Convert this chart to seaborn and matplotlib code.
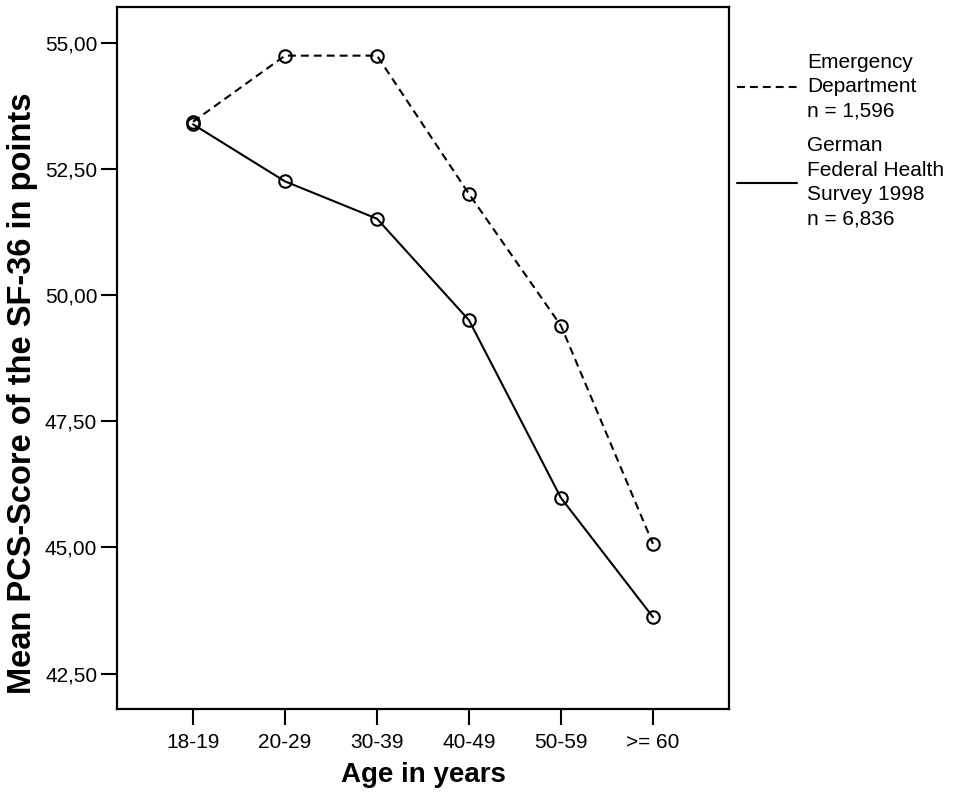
import numpy as np
import pandas as pd
import matplotlib
matplotlib.use("Agg")
import matplotlib.pyplot as plt
from matplotlib.lines import Line2D
import seaborn as sns

# Data
age_groups = ["18-19", "20-29", "30-39", "40-49", "50-59", ">= 60"]
emergency_dept = [53.43, 54.74, 54.74, 52.00, 49.39, 45.07]
federal_survey = [53.38, 52.25, 51.51, 49.50, 45.98, 43.62]
series_labels = ["Emergency\nDepartment\nn = 1,596",
                 "German\nFederal Health\nSurvey 1998\nn = 6,836"]
y_ticks = [42.5, 45.0, 47.5, 50.0, 52.5, 55.0]

df = pd.DataFrame({
    "age": age_groups * 2,
    "score": emergency_dept + federal_survey,
    "group": [series_labels[0]] * 6 + [series_labels[1]] * 6,
})

sns.set_style("white")
plt.rcParams["font.family"] = ["Liberation Sans", "DejaVu Sans"]
plt.rcParams["text.color"] = "black"
plt.rcParams["axes.labelcolor"] = "black"
plt.rcParams["xtick.color"] = "black"
plt.rcParams["ytick.color"] = "black"

fig = plt.figure(figsize=(9.58, 7.95), dpi=100)
ax = fig.add_axes([0.1218, 0.1082, 0.6395, 0.8834])

dash_style = (3.8, 2.4)
for label, ls in zip(series_labels, ["--", "-"]):
    sub = df[df["group"] == label]
    sns.lineplot(data=sub, x="age", y="score", ax=ax, color="black",
                 linewidth=1.5, marker="o", markersize=9,
                 markerfacecolor="none", markeredgecolor="black",
                 markeredgewidth=1.5, sort=False, linestyle=ls,
                 legend=False)
ax.lines[0].set_dashes(dash_style)

ax.set_xlim(-0.83, 5.83)
ax.set_ylim(41.80, 55.71)
ax.set_yticks(y_ticks)
ax.set_yticklabels([f"{v:.2f}".replace(".", ",") for v in y_ticks])

for s in ax.spines.values():
    s.set_linewidth(1.6)
    s.set_color("black")
ax.tick_params(axis="both", which="major", direction="out", length=11.5,
               width=1.5, color="black", labelcolor="black", labelsize=15,
               left=True, bottom=True)
ax.tick_params(axis="y", pad=2.5)
ax.tick_params(axis="x", pad=6)

ax.set_xlabel("Age in years", fontsize=20, fontweight="bold", labelpad=7)
ax.set_ylabel("Mean PCS-Score of the SF-36 in points", fontsize=23.5,
              fontweight="bold")
ax.yaxis.set_label_coords(-0.128, 0.45)

handles = [Line2D([], [], color="black", lw=1.5, dashes=dash_style),
           Line2D([], [], color="black", lw=1.5)]
leg = fig.legend(handles, series_labels, loc="upper left",
                 bbox_to_anchor=(737 / 958, 1 - 53 / 795), frameon=False,
                 fontsize=15, handlelength=2.86, handletextpad=0.52,
                 labelspacing=0.75, borderpad=0, borderaxespad=0)
for t in leg.get_texts():
    t.set_linespacing(1.36)

fig.savefig("out.png", dpi=100)
